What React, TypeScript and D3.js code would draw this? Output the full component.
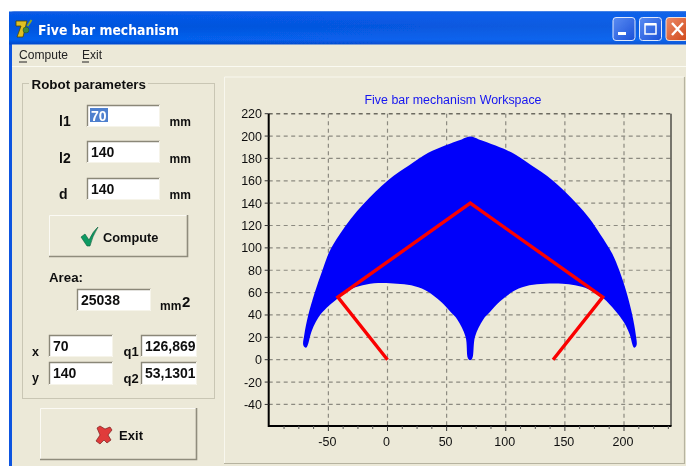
import React from "react";
import * as d3 from "d3";

const xTicks = [-50, 0, 50, 100, 150, 200];
const xMinor = [-87.5, -75, -62.5, -37.5, -25, -12.5, 12.5, 25, 37.5, 62.5, 75, 87.5, 112.5, 125, 137.5, 162.5, 175, 187.5, 212.5, 225, 237.5];
const yTicks = [-40, -20, 0, 20, 40, 60, 80, 100, 120, 140, 160, 180, 200, 220];

// workspace outline [x, y], read clockwise from the left tip
const outerLeft: [number, number][] = [[-71.2, 13], [-70.4, 22], [-67, 40], [-61.3, 60.8], [-55, 80], [-49, 97], [-40.5, 112], [-31, 126], [-20.5, 139], [-10, 150.5], [0, 160], [10, 168], [20.5, 175.5], [34.5, 185], [48.6, 191.5], [62.7, 197], [70, 199.5]];
const outerRight: [number, number][] = [[77.3, 197], [91.4, 191.5], [105.5, 185], [119.5, 175.5], [130, 168], [140, 160], [150, 150.5], [160.5, 139], [171, 126], [180, 112], [190, 95], [196, 80], [202, 60.8], [207, 40], [210, 22], [210.6, 13]];
const innerRight: [number, number][] = [[208.7, 10.7], [207.3, 13], [205, 22], [200.2, 33], [192.4, 44], [182.5, 55], [170, 63], [158.6, 66.5], [148, 68], [133, 68], [120, 66.5], [108, 62], [95, 52], [87, 43], [81, 36], [74, 20.6], [71.7, 1.3], [69.8, -0.5]];
const innerLeft: [number, number][] = [[68, 1.3], [66, 20.6], [59, 36], [53, 43], [45, 52], [32, 62], [20, 66.5], [8, 68], [-8, 68.5], [-21, 66.5], [-33, 62], [-42, 55], [-56.2, 41], [-64, 26], [-67.5, 13], [-69, 10.7]];
const linkage: [number, number][] = [[0, 0], [-42, 56], [70, 140], [182, 56], [140, 0]];

const fieldL = [{ label: "l1", value: "70", y: 105, b: 126 }, { label: "l2", value: "140", y: 141, b: 163 }, { label: "d", value: "140", y: 178, b: 199 }];
const fieldS = [
  { label: "x", value: "70", x: 49, w: 64, y: 335, h: 22, b: 356 },
  { label: "y", value: "140", x: 49, w: 64, y: 362, h: 23, b: 382 },
];
const fieldQ = [
  { label: "q1", value: "126,869", y: 335, h: 22, b: 356 },
  { label: "q2", value: "53,1301", y: 362, h: 23, b: 383 },
];

const x = d3.scaleLinear().domain([0, 200]).range([387.5, 624]);
const y = d3.scaleLinear().domain([0, 220]).range([359.7, 113.7]);
const left = 268.7, right = 671, top = y(220), bottom = 426;

const BG = "#ECE9D8";
const SANS = "'Liberation Sans', Arial, sans-serif";

function Edit({ x: bx, y: by, w, h, value, selected, clip }: any) {
  const id = `c${bx}-${by}`;
  return (
    <g>
      <rect x={bx} y={by} width={w} height={h} fill="#fff" />
      <path d={`M${bx + .5} ${by + h}V${by + .5}H${bx + w}`} fill="none" stroke="#8a8778" strokeWidth={1.4} />
      <path d={`M${bx} ${by + h - .5}H${bx + w - .5}V${by}`} fill="none" stroke="#f6f4ea" strokeWidth={1} />
      {clip && <clipPath id={id}><rect x={bx + 2} y={by} width={w - 4} height={h} /></clipPath>}
      {selected && <rect x={bx + 3} y={by + 3} width={18} height={14} fill="#316AC5" opacity={0.85} />}
      <text x={bx + 4} y={by + 15.5} fontFamily={SANS} fontWeight="bold" fontSize={14} fill={selected ? "#fff" : "#111"} clipPath={clip ? `url(#${id})` : undefined}>{value}</text>
    </g>
  );
}

function Button({ x: bx, y: by, w, h }: any) {
  return (
    <g>
      <rect x={bx} y={by} width={w} height={h} fill={BG} />
      <path d={`M${bx + .5} ${by + h}V${by + .5}H${bx + w}`} fill="none" stroke="#fbfaf4" strokeWidth={1} />
      <path d={`M${bx} ${by + h - .5}H${bx + w - .5}V${by}`} fill="none" stroke="#8f8c7c" strokeWidth={1.6} />
    </g>
  );
}

export default function App() {
  const outline = d3.line<[number, number]>().x(d => x(d[0])).y(d => y(d[1]));
  const smooth = d3.line<[number, number]>().x(d => x(d[0])).y(d => y(d[1])).curve(d3.curveCatmullRomClosed.alpha(0.5));
  const shape = smooth([...outerLeft, ...outerRight, ...innerRight, ...innerLeft])!;
  return (
    <svg width={686} height={466} style={{ position: "absolute", left: 0, top: 0, display: "block" }}>
      <defs>
        <linearGradient id="tb" x1="0" x2="0" y1="0" y2="1">
          <stop offset="0" stopColor="#0A5BE0" />
          <stop offset="0.12" stopColor="#0558E8" />
          <stop offset="0.45" stopColor="#0253DC" />
          <stop offset="0.85" stopColor="#0560EE" />
          <stop offset="1" stopColor="#0346C8" />
        </linearGradient>
        <linearGradient id="tbh" x1="0" x2="1" y1="0" y2="0">
          <stop offset="0" stopColor="#0A5BE0" stopOpacity={0} />
          <stop offset="1" stopColor="#2A7BF0" stopOpacity={0.3} />
        </linearGradient>
        <linearGradient id="wb" x1="0" x2="1" y1="0" y2="1">
          <stop offset="0" stopColor="#5A8CF2" />
          <stop offset="1" stopColor="#1A50D8" />
        </linearGradient>
        <linearGradient id="cb" x1="0" x2="1" y1="0" y2="1">
          <stop offset="0" stopColor="#EC8A68" />
          <stop offset="1" stopColor="#D04818" />
        </linearGradient>
        <filter id="soft" x="0" y="0" width="100%" height="100%"><feGaussianBlur stdDeviation="0.35" /></filter>
      </defs>
      <rect width={686} height={466} fill="#fff" />
      <g filter="url(#soft)">
        {/* window frame */}
        <path d="M9 466V16Q9 11.5 14 11.5H686V466Z" fill="#0A55E0" />
        <rect x={9} y={11.5} width={677} height={33} fill="url(#tb)" />
        <rect x={9} y={11.5} width={677} height={33} fill="url(#tbh)" />
        <rect x={12} y={44.5} width={674} height={421.5} fill={BG} />
        <line x1={12} x2={686} y1={66.5} y2={66.5} stroke="#fafaf2" />

        {/* app icon */}
        <path d="M16 21H27L23 37H17L21 26H16Z" fill="#E0C020" stroke="#4a4400" strokeWidth={0.8} />
        <circle cx={26} cy={30} r={3} fill="#3a8a40" stroke="#24452a" strokeWidth={0.5} />
        <path d="M27.5 26L31.5 20" stroke="#8CA820" strokeWidth={2} />
        <text x={38} y={35} fontFamily="'DejaVu Sans', sans-serif" fontWeight="bold" fontSize={14} fill="#fff" textLength={141} lengthAdjust="spacingAndGlyphs">Five bar mechanism</text>

        {/* window buttons */}
        <rect x={613} y={17.5} width={22} height={23} rx={3} fill="url(#wb)" stroke="#dfe8fa" />
        <rect x={618} y={32} width={8} height={3} fill="#fff" />
        <rect x={639.5} y={17.5} width={22} height={23} rx={3} fill="url(#wb)" stroke="#dfe8fa" />
        <rect x={645} y={24} width={11} height={10} fill="none" stroke="#fff" strokeWidth={1.5} />
        <rect x={645} y={23} width={11} height={2.5} fill="#fff" />
        <rect x={666} y={17.5} width={22} height={23} rx={3} fill="url(#cb)" stroke="#f0e0d8" />
        <path d="M672 23L683 35M683 23L672 35" stroke="#fff" strokeWidth={2.4} />

        {/* menu */}
        <text x={19} y={59} fontFamily={SANS} fontSize={12.5} fill="#222" textLength={49} lengthAdjust="spacingAndGlyphs">Compute</text>
        <line x1={19} x2={27} y1={62} y2={62} stroke="#222" />
        <text x={82} y={59} fontFamily={SANS} fontSize={12.5} fill="#222" textLength={20} lengthAdjust="spacingAndGlyphs">Exit</text>
        <line x1={82} x2={89} y1={62} y2={62} stroke="#222" />

        {/* group box */}
        <rect x={22.5} y={83.5} width={192} height={315} fill="none" stroke="#c9c6b4" />
        <rect x={29} y={78} width={119} height={12} fill={BG} />
        <text x={31.5} y={89} fontFamily={SANS} fontWeight="bold" fontSize={13} fill="#111" textLength={114.5} lengthAdjust="spacingAndGlyphs">Robot parameters</text>

        {fieldL.map((f, i) => (
          <g key={f.label}>
            <text x={59} y={f.b} fontFamily={SANS} fontWeight="bold" fontSize={14} fill="#111">{f.label}</text>
            <Edit x={87} y={f.y} w={73} h={22} value={f.value} selected={i === 0} />
            <text x={169.5} y={f.b} fontFamily={SANS} fontWeight="bold" fontSize={12} fill="#111">mm</text>
          </g>
        ))}

        <Button x={49} y={215} w={139} h={42} />
        <path d="M81 237L85 234L89 240Q93 231 98 227Q92 237 90 246H87Z" fill="#0F9A62" stroke="#0a5c3a" strokeWidth={0.6} />
        <text x={103} y={242} fontFamily={SANS} fontWeight="bold" fontSize={13} fill="#111" textLength={55.5} lengthAdjust="spacingAndGlyphs">Compute</text>

        <text x={49} y={282} fontFamily={SANS} fontWeight="bold" fontSize={13} fill="#111" textLength={34} lengthAdjust="spacingAndGlyphs">Area:</text>
        <Edit x={77} y={289} w={74} h={22} value="25038" />
        <text x={160} y={310} fontFamily={SANS} fontWeight="bold" fontSize={12} fill="#111">mm</text>
        <text x={182} y={307} fontFamily={SANS} fontWeight="bold" fontSize={15} fill="#111">2</text>

        {fieldS.map(f => (
          <g key={f.label}>
            <text x={32} y={f.b} fontFamily={SANS} fontWeight="bold" fontSize={12.5} fill="#111">{f.label}</text>
            <Edit x={f.x} y={f.y} w={f.w} h={f.h} value={f.value} />
          </g>
        ))}
        {fieldQ.map(f => (
          <g key={f.label}>
            <text x={123.5} y={f.b} fontFamily={SANS} fontWeight="bold" fontSize={13} fill="#111">{f.label}</text>
            <Edit x={141} y={f.y} w={56} h={f.h} value={f.value} clip />
          </g>
        ))}

        <Button x={40} y={408} w={157} h={52} />
        <path d="M97 428L100 426L105 429L110 427L112 430L108 435L111 440L107 443L104 440L100 444L96 441L100 435Z" fill="#E03A3A" stroke="#7a2020" strokeWidth={0.7} />
        <text x={119} y={440} fontFamily={SANS} fontWeight="bold" fontSize={13} fill="#111" textLength={24}>Exit</text>

        {/* chart panel */}
        <path d="M224.5 463V77H684" fill="none" stroke="#f8f7ee" />
        <path d="M224 463.5H684.5V77" fill="none" stroke="#b6b3a0" strokeWidth={1.2} />

        <text x={453} y={104} textAnchor="middle" fontFamily={SANS} fontSize={12.5} fill="#1414F0" textLength={177} lengthAdjust="spacingAndGlyphs">Five bar mechanism Workspace</text>

        {/* grid */}
        {yTicks.map(t => (
          <line key={t} x1={left} x2={right} y1={y(t)} y2={y(t)} stroke={t === 220 ? "#6c6a60" : "#8c8a80"} strokeWidth={t === 220 ? 1.5 : 1.2} strokeDasharray="4 3.5" />
        ))}
        {xTicks.map(t => (
          <line key={t} x1={x(t)} x2={x(t)} y1={top} y2={bottom} stroke="#8c8a80" strokeWidth={1.2} strokeDasharray="4 3.5" />
        ))}

        {/* marks */}
        <path d={shape} fill="#0000FA" />
        <path d={outline(linkage)!} fill="none" stroke="#FA0000" strokeWidth={3.4} strokeLinejoin="miter" />

        {/* axes */}
        <line x1={right} x2={right} y1={top} y2={bottom} stroke="#000" strokeWidth={1} />
        <line x1={left} x2={left} y1={top} y2={bottom + 1} stroke="#000" strokeWidth={2} />
        <line x1={left} x2={right + .5} y1={bottom} y2={bottom} stroke="#000" strokeWidth={2} />
        {yTicks.map(t => (
          <g key={t}>
            <line x1={left - 4} x2={left} y1={y(t)} y2={y(t)} stroke="#333" />
            <text x={262} y={y(t) + 4.5} textAnchor="end" fontFamily={SANS} fontSize={12.5} fill="#111">{t}</text>
          </g>
        ))}
        {xMinor.map(t => (
          <line key={t} x1={x(t)} x2={x(t)} y1={bottom} y2={bottom + 3} stroke="#555" />
        ))}
        {xTicks.map(t => (
          <g key={t}>
            <line x1={x(t)} x2={x(t)} y1={bottom} y2={bottom + 5} stroke="#333" />
            <text x={x(t) - 1} y={445.5} textAnchor="middle" fontFamily={SANS} fontSize={12.5} fill="#111">{t}</text>
          </g>
        ))}
      </g>
    </svg>
  );
}
